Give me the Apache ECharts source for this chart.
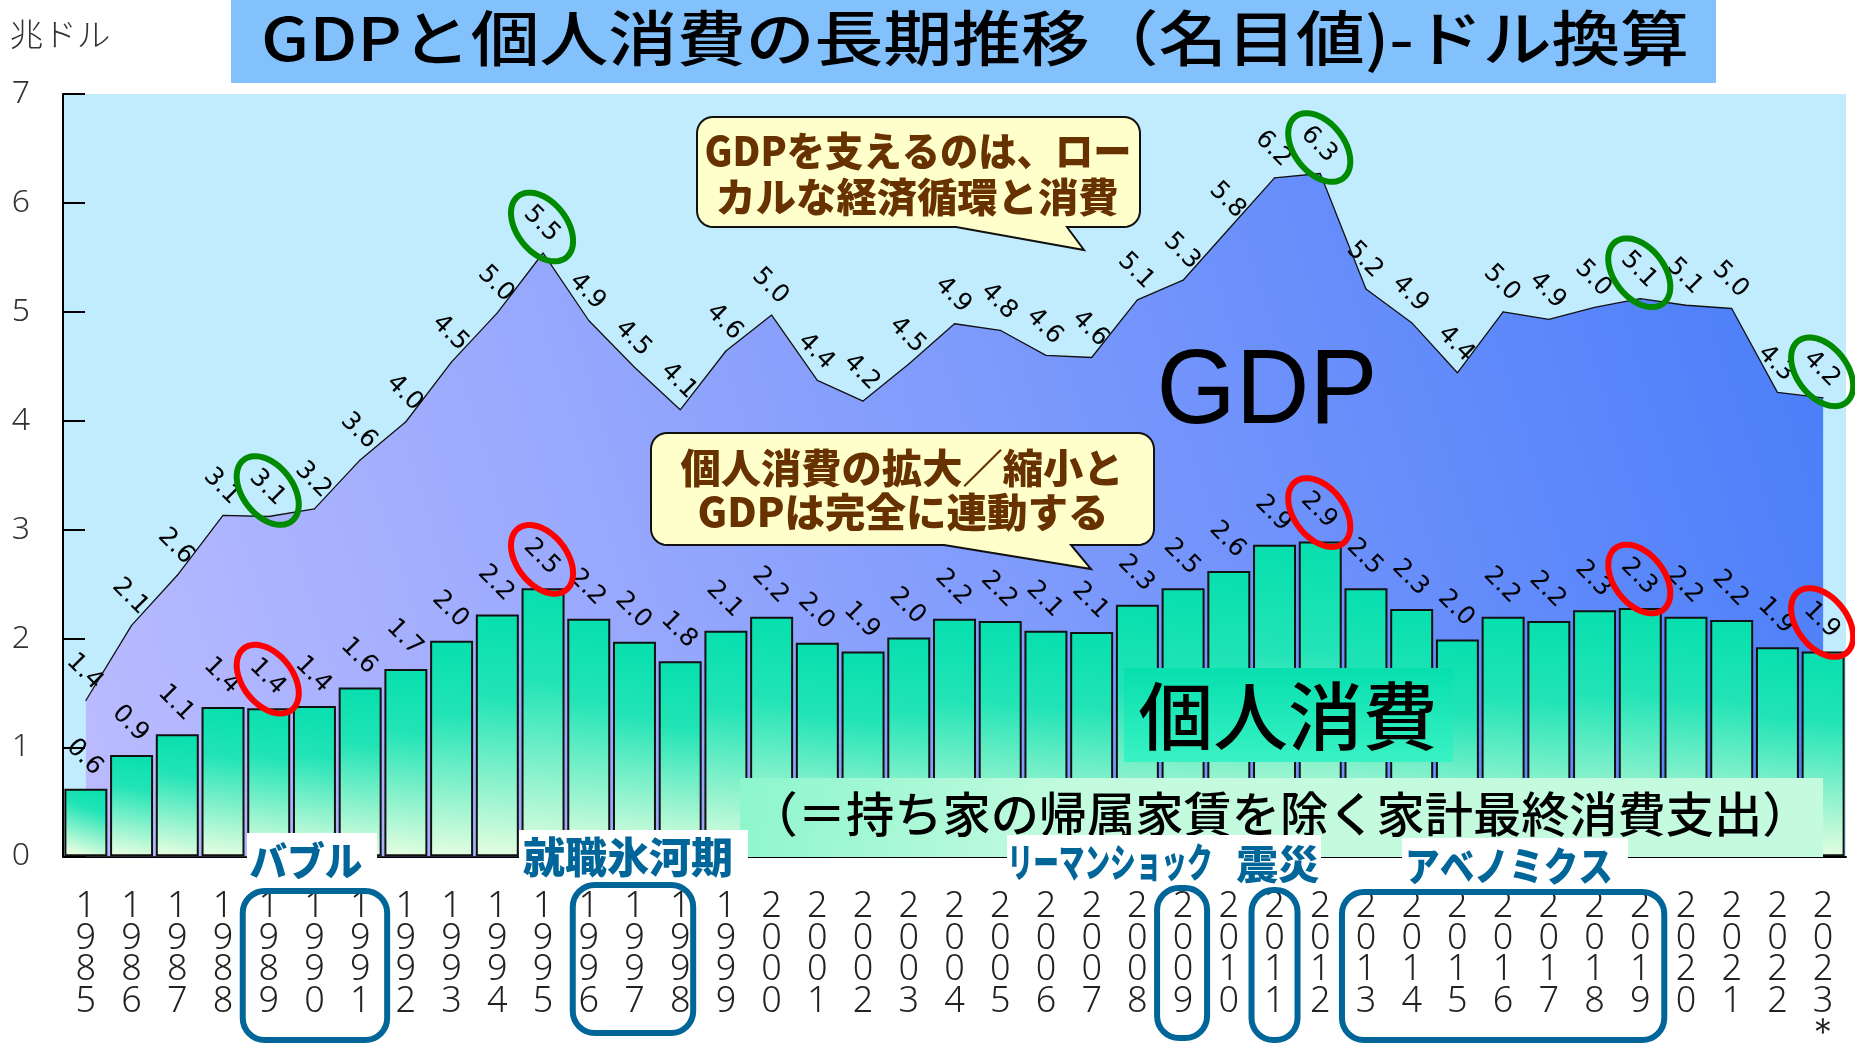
<!DOCTYPE html>
<html><head><meta charset="utf-8">
<script src="https://cdn.jsdelivr.net/npm/echarts@6/dist/echarts.min.js"></script>
<style>html,body{margin:0;padding:0;background:#fff;}#c{width:1855px;height:1051px;}</style>
</head><body><div id="c"></div>
<script>
// ---- data ----
const years = ['1985','1986','1987','1988','1989','1990','1991','1992','1993','1994','1995','1996','1997','1998','1999','2000','2001','2002','2003','2004','2005','2006','2007','2008','2009','2010','2011','2012','2013','2014','2015','2016','2017','2018','2019','2020','2021','2022','2023'];
const gdpValues = [1.43,2.12,2.58,3.13,3.12,3.19,3.64,3.99,4.54,4.99,5.54,4.92,4.49,4.10,4.64,4.97,4.37,4.18,4.52,4.89,4.83,4.60,4.58,5.11,5.29,5.76,6.23,6.27,5.21,4.90,4.44,5.00,4.93,5.04,5.12,5.06,5.03,4.26,4.21];
const consumptionValues = [0.62,0.93,1.12,1.37,1.36,1.38,1.55,1.72,1.98,2.22,2.46,2.18,1.97,1.79,2.07,2.20,1.96,1.88,2.01,2.18,2.16,2.07,2.06,2.31,2.46,2.62,2.86,2.89,2.46,2.27,1.99,2.20,2.16,2.26,2.28,2.20,2.17,1.92,1.88];
const yTickMax = 7;
const yTickStep = 1;
const markedYears = ['1989','1995','2012','2019','2023'];
const periodBoxes = [['1989','1991'],['1996','1998'],['2009','2009'],['2011','2011'],['2013','2019']];
const lastYearNote = '＊';

// ---- chart ----
const chart = echarts.init(document.getElementById('c'));
const JP = '"Noto Sans CJK JP", "Noto Sans CJK SC", sans-serif';

chart.setOption({
  animation: false,
  backgroundColor: '#ffffff',
  grid: {left: 63, right: 9, top: 94, bottom: 186, show: true, backgroundColor: '#c0ecfd', borderWidth: 0, containLabel: false},
  xAxis: {
    type: 'category', data: years, boundaryGap: true,
    axisLine: {lineStyle: {color: '#000', width: 2}},
    axisTick: {show: false},
    splitLine: {show: false},
    axisLabel: {
      interval: 0, margin: 35, color: '#222', fontSize: 36, lineHeight: 31.5,
      fontFamily: '"Noto Sans", "DejaVu Sans", sans-serif', fontWeight: 300,
      formatter: v => v.split('').join('\n') + (v === years[years.length - 1] ? '\n' + lastYearNote : '')
    }
  },
  yAxis: {
    type: 'value', min: 0, max: yTickMax, interval: yTickStep,
    axisLine: {show: true, lineStyle: {color: '#000', width: 2}},
    axisTick: {show: true, inside: true, length: 22, lineStyle: {color: '#000', width: 2}},
    splitLine: {show: false},
    axisLabel: {margin: 33, color: '#333', fontSize: 32, fontFamily: '"Noto Sans", sans-serif', fontWeight: 300}
  },
  series: [
    {
      name: 'GDP', type: 'line', data: gdpValues,
      symbol: 'circle', symbolSize: 1, itemStyle: {color: '#111'},
      lineStyle: {color: '#111', width: 1.3},
      areaStyle: {opacity: 1, color: {type: 'linear', x: 0, y: 1, x2: 1, y2: 0.2, colorStops: [{offset: 0, color: '#bcbcff'}, {offset: 1, color: '#4a7ef9'}]}},
      label: {show: true, position: 'top', distance: 27, offset: [-2, 0], rotate: -45, align: 'center', verticalAlign: 'middle',
        formatter: p => p.value.toFixed(1), fontSize: 25, fontFamily: '"DejaVu Sans", sans-serif', color: '#000'},
      z: 2
    },
    {
      name: '個人消費', type: 'bar', data: consumptionValues, barCategoryGap: '6%',
      itemStyle: {borderColor: '#111', borderWidth: 2,
        color: {type: 'linear', x: 1, y: 0, x2: 0.5, y2: 1, colorStops: [{offset: 0, color: '#06dfae'}, {offset: 0.35, color: '#22e4b6'}, {offset: 1, color: '#e4fee0'}]}},
      label: {show: true, position: 'top', distance: 30, offset: [-2, 0], rotate: -45, align: 'center', verticalAlign: 'middle',
        formatter: p => p.value.toFixed(1), fontSize: 25, fontFamily: '"DejaVu Sans", sans-serif', color: '#000'},
      z: 3
    }
  ]
});

// ---- annotations ----
const mctx = document.createElement('canvas').getContext('2d');
function fitScale(text, font, target) { mctx.font = font; const w = mctx.measureText(text).width; return w > 0 ? target / w : 1; }
function txt(text, cx, cy, size, weight, family, color, targetW, z) {
  const font = weight + ' ' + size + 'px ' + family;
  const s = targetW ? fitScale(text, font, targetW) : 1;
  return {type: 'text', x: cx, y: cy, scaleX: s, z: z || 80,
    style: {text: text, font: font, fill: color, align: 'center', verticalAlign: 'middle', textAlign: 'center', textVerticalAlign: 'middle'}};
}
function rect(x0, y0, x1, y1, fill, z, extra) {
  return Object.assign({type: 'rect', z: z || 70, shape: {x: x0, y: y0, width: x1 - x0, height: y1 - y0}, style: {fill: fill}}, extra || {});
}
function calloutPts(x0, y0, x1, y1, r, b1, b2, tx, ty) {
  const pts = [];
  const arc = (cx, cy, a0, a1) => { for (let k = 0; k <= 8; k++) { const a = (a0 + (a1 - a0) * k / 8) * Math.PI / 180; pts.push([cx + r * Math.cos(a), cy + r * Math.sin(a)]); } };
  arc(x1 - r, y0 + r, -90, 0);
  arc(x1 - r, y1 - r, 0, 90);
  pts.push([b2, y1], [tx, ty], [b1, y1]);
  arc(x0 + r, y1 - r, 90, 180);
  arc(x0 + r, y0 + r, 180, 270);
  return pts;
}
function ellipsePts(cx, cy, rx, ry, deg) {
  const a = deg * Math.PI / 180, pts = [];
  for (let k = 0; k < 60; k++) {
    const t = 2 * Math.PI * k / 60, x = rx * Math.cos(t), y = ry * Math.sin(t);
    pts.push([cx + x * Math.cos(a) - y * Math.sin(a), cy + x * Math.sin(a) + y * Math.cos(a)]);
  }
  return pts;
}
const px = (i, v) => chart.convertToPixel({xAxisIndex: 0, yAxisIndex: 0}, [i, v]);

const els = [];
// title
els.push(rect(231, 0, 1716, 83, '#82c1fc', 60));
els.push(txt('GDPと個人消費の長期推移（名目値)-ドル換算', 975, 38, 60, 500, JP, '#000', 1428, 61));
// unit
els.push(txt('兆ドル', 60, 34, 32, 300, JP, '#333', 101, 61));

// callouts
const brown = '#673200';
els.push({type: 'polygon', z: 70, shape: {points: calloutPts(697, 117, 1140, 227, 16, 956, 1067, 1084, 250)}, style: {fill: '#ffffcc', stroke: '#111', lineWidth: 2}});
els.push(txt('GDPを支えるのは、ロー', 918, 151, 40, 900, JP, brown, 427, 71));
els.push(txt('カルな経済循環と消費', 917, 197, 40, 900, JP, brown, 403, 71));
els.push({type: 'polygon', z: 70, shape: {points: calloutPts(651, 433, 1154, 545, 16, 944, 1071, 1091, 569)}, style: {fill: '#ffffcc', stroke: '#111', lineWidth: 2}});
els.push(txt('個人消費の拡大／縮小と', 902, 468, 40, 900, JP, brown, 443, 71));
els.push(txt('GDPは完全に連動する', 903, 512, 40, 900, JP, brown, 411, 71));

// big labels
els.push(txt('GDP', 1267, 394, 106, 'normal', '"Liberation Sans", Arial, sans-serif', '#000', 221, 71));
els.push(rect(1124, 668, 1453, 762, {type: 'linear', x: 0, y: 0, x2: 0, y2: 1, colorStops: [{offset: 0, color: '#06dfae'}, {offset: 1, color: '#3af2c4'}]}, 70));
els.push(txt('個人消費', 1288, 716, 74, 500, JP, '#000', 299, 71));
els.push(rect(740, 778, 1823, 857, {type: 'linear', x: 0, y: 0, x2: 0.3, y2: 1, colorStops: [{offset: 0, color: '#8cf6cc'}, {offset: 1, color: '#c4fbdf'}]}, 70));
els.push(txt('（＝持ち家の帰属家賃を除く家計最終消費支出）', 1280, 814, 48, 500, JP, '#000', 1061, 71));

// period labels
const blue = '#006699';
els.push(rect(247, 833, 377, 886, '#fff', 72));
els.push(txt('バブル', 306, 861, 40, 900, JP, blue, 113, 73));
els.push(rect(519, 830, 748, 886, '#fff', 72));
els.push(txt('就職氷河期', 628, 857, 42, 900, JP, blue, 210, 73));
els.push(rect(1007, 835, 1235, 888, '#fff', 72));
els.push(txt('リーマンショック', 1110, 862, 40, 900, JP, blue, 205, 73));
els.push(rect(1235, 835, 1321, 888, '#fff', 72));
els.push(txt('震災', 1278, 864, 40, 900, JP, blue, 83, 73));
els.push(rect(1402, 838, 1628, 890, '#fff', 72));
els.push(txt('アベノミクス', 1509, 866, 40, 900, JP, blue, 208, 73));

// year boxes
const pads = [[26, 27, 891, 1040], [16, 13, 885, 1033], [26, 24, 888, 1038], [23, 23, 890, 1040], [24, 24, 892, 1040]];
periodBoxes.forEach((b, k) => {
  const i0 = years.indexOf(b[0]), i1 = years.indexOf(b[1]);
  const xa = px(i0, 0)[0] - pads[k][0], xb = px(i1, 0)[0] + pads[k][1];
  els.push({type: 'rect', z: 75, shape: {x: xa, y: pads[k][2], width: xb - xa, height: pads[k][3] - pads[k][2], r: 22}, style: {fill: 'none', stroke: blue, lineWidth: 6}});
});

// circled values
markedYears.forEach(y => {
  const i = years.indexOf(y);
  const g = px(i, gdpValues[i]);
  els.push({type: 'polygon', z: 90, shape: {points: ellipsePts(g[0] - 1, g[1] - 26, 39, 25, 52)}, style: {fill: 'none', stroke: '#008a00', lineWidth: 6}});
  const c = px(i, consumptionValues[i]);
  els.push({type: 'polygon', z: 90, shape: {points: ellipsePts(c[0] - 1, c[1] - 29, 39, 25, 52)}, style: {fill: 'none', stroke: '#ff0000', lineWidth: 6}});
});

chart.setOption({graphic: {elements: els}});
</script></body></html>
